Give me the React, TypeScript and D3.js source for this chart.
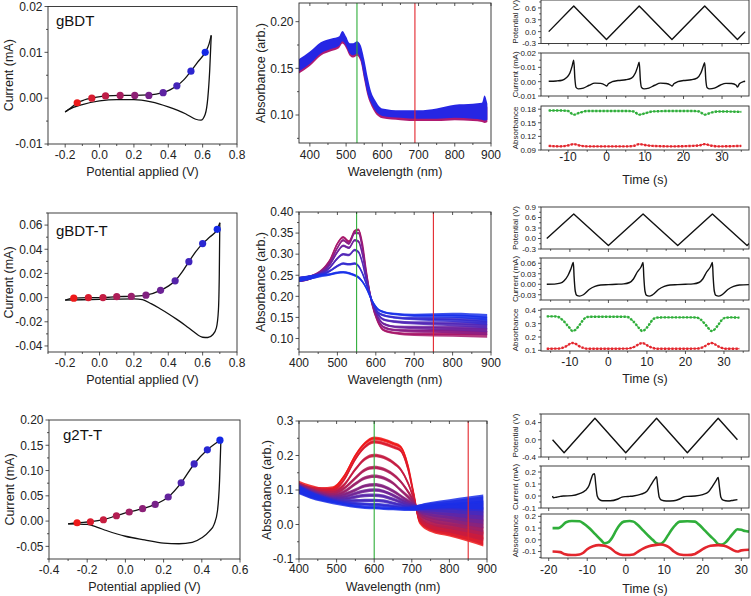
import React from 'react';
import * as d3 from 'd3';

const FONT = "'Liberation Sans', Arial, sans-serif";
const AX = '#2b2b2b';
const GREEN = '#2fae3a';
const RED = '#e3262d';

type P = [number, number];

// ================= CV data (V, mA) =================
const cv1Fwd: P[] = [[-0.2, -0.003], [-0.17, -0.0022], [-0.13, -0.001], [-0.09, -0.0004], [-0.045, 0.0], [0.035, 0.0005], [0.12, 0.0006], [0.205, 0.0006], [0.287, 0.0007], [0.33, 0.0009], [0.37, 0.0012], [0.41, 0.0018], [0.45, 0.0027], [0.49, 0.004], [0.532, 0.0059], [0.57, 0.0078], [0.615, 0.010], [0.637, 0.0118], [0.65, 0.0137]];
const cv1Ret: P[] = [[-0.2, -0.003], [-0.18, -0.0025], [-0.1, -0.0014], [0.0, -0.0006], [0.1, -0.0003], [0.2, -0.0003], [0.3, -0.0008], [0.4, -0.0019], [0.5, -0.0034], [0.56, -0.0046], [0.59, -0.0048], [0.615, -0.0035], [0.63, 0.0], [0.641, 0.006], [0.65, 0.0137]];
const cv1DotV = [-0.13, -0.045, 0.035, 0.12, 0.205, 0.287, 0.37, 0.45, 0.532, 0.615];
const cv1DotI = [-0.001, 0.0, 0.0005, 0.0006, 0.0006, 0.0006, 0.0012, 0.0027, 0.0059, 0.010];
const cv1XTicks = [-0.2, 0, 0.2, 0.4, 0.6, 0.8];
const cv1YTicks = [-0.01, 0, 0.01, 0.02];

const cv2Fwd: P[] = [[-0.2, -0.002], [-0.15, -0.0005], [-0.065, 0.0], [0.02, 0.0], [0.1, 0.0008], [0.185, 0.001], [0.27, 0.002], [0.355, 0.006], [0.4, 0.0095], [0.44, 0.0139], [0.48, 0.021], [0.52, 0.0297], [0.56, 0.038], [0.6, 0.0447], [0.645, 0.0505], [0.685, 0.0565], [0.7, 0.062]];
const cv2Ret: P[] = [[-0.2, -0.002], [0.0, -0.0015], [0.2, -0.001], [0.25, -0.0017], [0.3, -0.005], [0.35, -0.009], [0.4, -0.0133], [0.45, -0.018], [0.5, -0.023], [0.55, -0.0285], [0.6, -0.0328], [0.63, -0.033], [0.66, -0.0305], [0.68, -0.025], [0.692, -0.01], [0.697, 0.02], [0.7, 0.062]];
const cv2DotV = [-0.15, -0.065, 0.02, 0.1, 0.185, 0.27, 0.355, 0.44, 0.52, 0.6, 0.685];
const cv2DotI = [-0.0005, 0, 0, 0.0008, 0.001, 0.002, 0.006, 0.0139, 0.0297, 0.0447, 0.0565];
const cv2XTicks = [-0.2, 0, 0.2, 0.4, 0.6, 0.8];
const cv2YTicks = [-0.04, -0.02, 0, 0.02, 0.04, 0.06];

const cv3Fwd: P[] = [[-0.3, -0.0055], [-0.253, -0.0033], [-0.183, -0.0013], [-0.115, 0.0027], [-0.047, 0.0106], [0.02, 0.018], [0.09, 0.0246], [0.156, 0.033], [0.224, 0.0477], [0.292, 0.0758], [0.36, 0.113], [0.429, 0.141], [0.5, 0.161]];
const cv3Ret: P[] = [[-0.3, -0.0055], [-0.2, -0.0066], [-0.15, -0.012], [-0.1, -0.0186], [0.0, -0.03], [0.1, -0.0372], [0.2, -0.0435], [0.28, -0.0448], [0.35, -0.042], [0.4, -0.033], [0.44, -0.02], [0.465, -0.006], [0.482, 0.02], [0.493, 0.08], [0.5, 0.161]];
const cv3DotV = [-0.253, -0.183, -0.115, -0.047, 0.02, 0.09, 0.156, 0.224, 0.292, 0.36, 0.429, 0.495];
const cv3DotI = [-0.0033, -0.0013, 0.0027, 0.0106, 0.018, 0.0246, 0.033, 0.0477, 0.0758, 0.113, 0.141, 0.160];
const cv3XTicks = [-0.4, -0.2, 0, 0.2, 0.4, 0.6];
const cv3YTicks = [-0.05, 0, 0.05, 0.1, 0.15, 0.2];

// ================= Spectra =================
const sp1Wl = [370, 400, 430, 460, 480, 490, 500, 510, 520, 530, 540, 550, 560, 570, 580, 590, 600, 650, 700, 750, 800, 850, 875, 882, 890];
const sp1Hi = [0.160, 0.168, 0.178, 0.182, 0.184, 0.190, 0.184, 0.177, 0.177, 0.179, 0.175, 0.160, 0.140, 0.124, 0.116, 0.110, 0.107, 0.105, 0.105, 0.107, 0.111, 0.112, 0.113, 0.121, 0.112];
const sp1Lo = [0.147, 0.155, 0.166, 0.171, 0.174, 0.179, 0.174, 0.166, 0.164, 0.166, 0.160, 0.140, 0.122, 0.112, 0.105, 0.101, 0.099, 0.097, 0.096, 0.096, 0.097, 0.096, 0.095, 0.094, 0.095];
const sp1Lines = [530, 690];
const sp1XTicks = [400, 500, 600, 700, 800, 900];
const sp1YTicks = [0.10, 0.15, 0.20];

const sp2Wl = [400, 430, 460, 480, 500, 515, 530, 545, 555, 565, 575, 590, 605, 620, 650, 700, 800, 890];
const sp2C1 = [0.24, 0.245, 0.262, 0.285, 0.325, 0.34, 0.33, 0.355, 0.358, 0.325, 0.26, 0.182, 0.14, 0.12, 0.113, 0.11, 0.11, 0.11];
const sp2C2 = [0.24, 0.245, 0.26, 0.28, 0.315, 0.333, 0.325, 0.35, 0.35, 0.315, 0.255, 0.184, 0.146, 0.127, 0.12, 0.118, 0.118, 0.116];
const sp2C3 = [0.24, 0.245, 0.258, 0.275, 0.305, 0.32, 0.315, 0.333, 0.33, 0.30, 0.25, 0.186, 0.152, 0.135, 0.128, 0.126, 0.125, 0.123];
const sp2C4 = [0.24, 0.245, 0.255, 0.268, 0.29, 0.30, 0.298, 0.31, 0.305, 0.28, 0.24, 0.188, 0.158, 0.145, 0.14, 0.137, 0.135, 0.132];
const sp2C5 = [0.24, 0.245, 0.252, 0.26, 0.272, 0.278, 0.276, 0.278, 0.272, 0.255, 0.23, 0.19, 0.163, 0.155, 0.15, 0.147, 0.145, 0.14];
const sp2C6 = [0.24, 0.245, 0.25, 0.252, 0.256, 0.257, 0.255, 0.25, 0.245, 0.235, 0.22, 0.19, 0.17, 0.163, 0.158, 0.155, 0.155, 0.15];
const sp2Noise = [0.006, 0.005, 0.004, 0.003, 0.003, 0.003, 0.003, 0.003, 0.003, 0.003, 0.003, 0.003, 0.003, 0.003, 0.003, 0.004, 0.006, 0.008];
const sp2Lines = [550, 750];
const sp2XTicks = [400, 500, 600, 700, 800, 900];
const sp2YTicks = [0.10, 0.15, 0.20, 0.25, 0.30, 0.35, 0.40];

const sp3Wl = [400, 430, 460, 490, 520, 550, 575, 600, 625, 650, 670, 690, 705, 720, 750, 800, 850, 890];
const sp3R1 = [0.115, 0.105, 0.1, 0.105, 0.14, 0.2, 0.235, 0.25, 0.245, 0.235, 0.225, 0.17, 0.09, 0.01, -0.012, -0.022, -0.032, -0.042];
const sp3R2 = [0.11, 0.1, 0.1, 0.1, 0.13, 0.19, 0.225, 0.24, 0.235, 0.225, 0.215, 0.16, 0.085, 0.015, -0.008, -0.018, -0.028, -0.038];
const sp3R3 = [0.11, 0.1, 0.095, 0.095, 0.115, 0.16, 0.19, 0.2, 0.195, 0.18, 0.16, 0.12, 0.075, 0.02, -0.002, -0.01, -0.018, -0.025];
const sp3R4 = [0.11, 0.098, 0.09, 0.09, 0.105, 0.135, 0.158, 0.165, 0.16, 0.145, 0.125, 0.095, 0.068, 0.03, 0.01, 0.0, -0.005, -0.01];
const sp3R5 = [0.108, 0.096, 0.088, 0.085, 0.095, 0.118, 0.135, 0.14, 0.135, 0.12, 0.1, 0.08, 0.063, 0.035, 0.018, 0.01, 0.005, 0.0];
const sp3R6 = [0.106, 0.094, 0.085, 0.08, 0.087, 0.1, 0.112, 0.115, 0.11, 0.097, 0.083, 0.068, 0.058, 0.04, 0.028, 0.02, 0.015, 0.012];
const sp3R7 = [0.105, 0.092, 0.082, 0.077, 0.08, 0.09, 0.097, 0.1, 0.096, 0.085, 0.073, 0.062, 0.055, 0.043, 0.035, 0.03, 0.025, 0.024];
const sp3R8 = [0.104, 0.09, 0.08, 0.074, 0.074, 0.08, 0.084, 0.085, 0.082, 0.073, 0.065, 0.057, 0.052, 0.046, 0.042, 0.038, 0.036, 0.036];
const sp3R9 = [0.103, 0.088, 0.078, 0.071, 0.068, 0.069, 0.07, 0.07, 0.068, 0.062, 0.057, 0.052, 0.05, 0.048, 0.048, 0.047, 0.047, 0.048];
const sp3R10 = [0.102, 0.087, 0.076, 0.068, 0.063, 0.06, 0.059, 0.058, 0.056, 0.053, 0.05, 0.048, 0.048, 0.05, 0.053, 0.056, 0.058, 0.06];
const sp3R11 = [0.1, 0.085, 0.074, 0.065, 0.058, 0.053, 0.05, 0.049, 0.047, 0.046, 0.045, 0.045, 0.046, 0.05, 0.055, 0.06, 0.063, 0.065];
const sp3Noise = [0.012, 0.01, 0.008, 0.006, 0.005, 0.005, 0.005, 0.005, 0.005, 0.005, 0.005, 0.006, 0.007, 0.008, 0.01, 0.013, 0.018, 0.022];
const sp3Lines = [600, 850];
const sp3XTicks = [400, 500, 600, 700, 800, 900];
const sp3YTicks = [-0.1, 0.0, 0.1, 0.2, 0.3];

// ================= Time traces =================
const t1Pot: P[] = [[-15, 0], [-8.5, 0.65], [0, -0.2], [8.5, 0.65], [17, -0.2], [25.5, 0.65], [34, -0.2], [36, 0.0]];
const t1Cur: P[] = [[-15, 0.0003], [-13, 0.0005], [-11.5, 0.001], [-10.5, 0.0025], [-9.5, 0.006], [-8.9, 0.011], [-8.5, 0.015], [-8.2, 0.002], [-7.9, -0.004], [-7.3, -0.005], [-6, -0.0045], [-4.5, -0.0025], [-3, -0.001], [-1.5, -0.0012], [-0.3, -0.0025], [0, -0.003], [0.5, -0.0015], [1.5, 0.0], [3, 0.0008], [5, 0.0013], [6.5, 0.0025], [7.5, 0.006], [8.1, 0.0105], [8.5, 0.0135], [8.8, 0.001], [9.1, -0.004], [9.8, -0.005], [11, -0.0045], [12.5, -0.0025], [14, -0.001], [15.5, -0.0013], [16.7, -0.0025], [17, -0.003], [17.5, -0.0015], [18.5, 0.0], [20, 0.0008], [22, 0.0013], [23.5, 0.0025], [24.5, 0.006], [25.1, 0.0105], [25.5, 0.0133], [25.8, 0.001], [26.1, -0.004], [26.8, -0.005], [28, -0.0045], [29.5, -0.0025], [31, -0.0012], [32.5, -0.0013], [33.7, -0.0025], [34, -0.0038], [34.5, -0.0015], [35.5, 0.0], [36, 0.0003]];
const t1Green: P[] = [[-15, 0.177], [-12, 0.177], [-10, 0.176], [-9, 0.17], [-8.5, 0.168], [-7, 0.172], [-5, 0.176], [0, 0.176], [5, 0.176], [7, 0.175], [8.5, 0.168], [10, 0.171], [12, 0.175], [17, 0.176], [22, 0.176], [24, 0.175], [25.5, 0.168], [27, 0.172], [29, 0.175], [35, 0.174]];
const t1Red: P[] = [[-15, 0.099], [-12, 0.098], [-10, 0.1], [-8.5, 0.103], [-7, 0.1], [-5, 0.098], [0, 0.098], [5, 0.098], [7, 0.099], [8.5, 0.103], [10, 0.101], [12, 0.099], [17, 0.098], [22, 0.099], [24, 0.1], [25.5, 0.103], [27, 0.1], [29, 0.098], [35, 0.099]];

const t2Pot: P[] = [[-16, 0], [-9, 0.7], [0, -0.2], [9, 0.7], [18, -0.2], [27, 0.7], [36, -0.2], [36.8, -0.12]];
const t2Cur: P[] = [[-16, 0.0], [-14, 0.0005], [-12.5, 0.003], [-11.5, 0.01], [-10.5, 0.025], [-9.7, 0.045], [-9.1, 0.062], [-8.9, 0.02], [-8.6, -0.02], [-8.2, -0.032], [-7.5, -0.034], [-6.5, -0.03], [-5, -0.015], [-3.5, -0.006], [-2, -0.002], [0, -0.001], [2, 0.0], [4, 0.001], [5.5, 0.005], [6.5, 0.015], [7.5, 0.035], [8.5, 0.05], [9, 0.062], [9.2, 0.02], [9.5, -0.02], [9.9, -0.032], [10.6, -0.034], [11.5, -0.03], [13, -0.015], [14.5, -0.006], [16, -0.002], [18, -0.001], [20, 0.0], [22, 0.001], [23.5, 0.005], [24.5, 0.015], [25.5, 0.035], [26.5, 0.05], [27, 0.062], [27.2, 0.02], [27.5, -0.02], [27.9, -0.032], [28.6, -0.034], [29.5, -0.03], [31, -0.015], [32.5, -0.006], [34, -0.002], [36.8, -0.001]];
const t2Green: P[] = [[-16, 0.355], [-14, 0.355], [-13, 0.35], [-12, 0.33], [-11, 0.3], [-10, 0.265], [-9.3, 0.245], [-8.5, 0.255], [-7.5, 0.29], [-6.5, 0.33], [-5.5, 0.35], [-4, 0.352], [0, 0.352], [4, 0.352], [5, 0.35], [6, 0.33], [7, 0.3], [8, 0.265], [8.8, 0.245], [9.5, 0.255], [10.5, 0.29], [11.5, 0.33], [12.5, 0.345], [14, 0.347], [18, 0.347], [22, 0.347], [23, 0.345], [24, 0.33], [25, 0.3], [26, 0.265], [26.8, 0.245], [27.5, 0.255], [28.5, 0.29], [29.5, 0.33], [30.5, 0.345], [32, 0.347], [34, 0.345]];
const t2Red: P[] = [[-16, 0.112], [-13, 0.113], [-12, 0.118], [-11, 0.13], [-10, 0.148], [-9.3, 0.155], [-8.5, 0.148], [-7.5, 0.13], [-6.5, 0.118], [-5.5, 0.112], [0, 0.112], [5, 0.113], [6, 0.118], [7, 0.13], [8, 0.148], [8.8, 0.155], [9.5, 0.148], [10.5, 0.13], [11.5, 0.118], [12.5, 0.112], [18, 0.112], [23, 0.113], [24, 0.118], [25, 0.13], [26, 0.148], [26.8, 0.155], [27.5, 0.148], [28.5, 0.13], [29.5, 0.118], [30.5, 0.112], [34, 0.112]];

const t3Pot: P[] = [[-19, 0], [-16, -0.3], [-8, 0.5], [0, -0.3], [8, 0.5], [16, -0.3], [24, 0.5], [29, 0.0]];
const t3Cur: P[] = [[-19, 0.0], [-18.8, -0.015], [-18, -0.01], [-17, -0.003], [-16, 0.0], [-14, 0.003], [-12, 0.02], [-10.5, 0.045], [-9.5, 0.09], [-9, 0.14], [-8.5, 0.18], [-8.1, 0.185], [-7.8, 0.1], [-7.4, 0.0], [-6.8, -0.03], [-6, -0.04], [-4, -0.04], [-2, -0.025], [-1, -0.01], [0, -0.005], [1, -0.003], [2, 0.0], [4, 0.015], [5.5, 0.04], [6.5, 0.09], [7.5, 0.14], [8, 0.16], [8.3, 0.08], [8.7, -0.01], [9.3, -0.035], [10.5, -0.042], [12.5, -0.04], [14, -0.025], [15, -0.008], [16, -0.003], [18, 0.0], [20, 0.012], [21.5, 0.035], [22.5, 0.08], [23.5, 0.13], [24, 0.155], [24.3, 0.08], [24.7, -0.01], [25.3, -0.035], [26.5, -0.042], [28, -0.035], [29, -0.03]];
const t3Green: P[] = [[-19, 0.1], [-17.5, 0.1], [-16.5, 0.12], [-15.5, 0.15], [-14, 0.16], [-12, 0.158], [-11, 0.14], [-9.5, 0.1], [-8, 0.05], [-6.5, 0.0], [-5.5, -0.03], [-4.5, -0.02], [-3.5, 0.02], [-2.5, 0.08], [-1.5, 0.13], [-0.5, 0.155], [1, 0.16], [2, 0.155], [3, 0.13], [4.5, 0.08], [6, 0.03], [7, 0.0], [8, -0.03], [9, -0.035], [10, -0.01], [11, 0.04], [12, 0.09], [13, 0.13], [14, 0.155], [16, 0.158], [18, 0.155], [19, 0.13], [20.5, 0.08], [22, 0.03], [23, 0.0], [24, -0.035], [25, -0.04], [26, -0.02], [27, 0.02], [28, 0.06], [29, 0.09], [30, 0.085], [31, 0.075], [32, 0.07]];
const t3Red: P[] = [[-19, -0.1], [-17, -0.105], [-16, -0.12], [-14, -0.13], [-12, -0.125], [-11, -0.11], [-10, -0.08], [-8.5, -0.055], [-7, -0.045], [-5.5, -0.05], [-4, -0.07], [-2.5, -0.11], [-1.5, -0.125], [0, -0.13], [2, -0.125], [3, -0.105], [4.5, -0.075], [6, -0.055], [7.5, -0.045], [9, -0.04], [10.5, -0.05], [11.5, -0.07], [12.5, -0.1], [14, -0.125], [16, -0.13], [18, -0.12], [19, -0.1], [20.5, -0.07], [22, -0.05], [24, -0.045], [25.5, -0.05], [27, -0.07], [28, -0.09], [29, -0.1], [30, -0.09], [32, -0.085]];

const tX12Ticks = [-10, 0, 10, 20, 30];
const tX3Ticks = [-20, -10, 0, 10, 20, 30];
const t1PotTicks = [-0.3, 0, 0.3, 0.6];
const t1CurTicks = [-0.01, 0, 0.01, 0.02];
const t1AbsTicks = [0.09, 0.12, 0.15, 0.18];
const t2PotTicks = [-0.3, 0, 0.3, 0.6, 0.9];
const t2CurTicks = [-0.03, 0, 0.03, 0.06];
const t2AbsTicks = [0.1, 0.2, 0.3, 0.4];
const t3PotTicks = [-0.4, 0, 0.4];
const t3CurTicks = [-0.1, 0, 0.1, 0.2];
const t3AbsTicks = [-0.1, 0, 0.1, 0.2];

// ================= helpers =================
const fmtN = (n: number) => (v: number) => (Math.abs(v) < 1e-12 ? 0 : v).toFixed(n);
const fmtInt = (v: number) => String(Math.round(v));

function minorTicks(major: number[], dom: number[]) {
  const step = major[1] - major[0];
  const lo = Math.min(dom[0], dom[1]), hi = Math.max(dom[0], dom[1]);
  const out: number[] = [];
  for (let v = major[0] - step / 2; v >= lo - 1e-9; v -= step) out.push(v);
  for (const m of major) { const v = m + step / 2; if (v <= hi + 1e-9 && v >= lo - 1e-9) out.push(v); }
  return out;
}

function YAxis({ y, x, ticks, dom, fmt, fs, len = 3.5, mlen = 2 }: any) {
  const minor = minorTicks(ticks, dom);
  return (
    <g>
      {minor.map((v: number, i: number) => <line key={'m' + i} x1={x} x2={x - mlen} y1={y(v)} y2={y(v)} stroke={AX} strokeWidth={0.8} />)}
      {ticks.map((v: number, i: number) => (
        <g key={i}>
          <line x1={x} x2={x - len} y1={y(v)} y2={y(v)} stroke={AX} strokeWidth={0.8} />
          {fmt && <text x={x - len - 2} y={y(v)} dy="0.36em" textAnchor="end" fontSize={fs} fill="#222">{fmt(v)}</text>}
        </g>
      ))}
    </g>
  );
}

function XAxis({ x, y, ticks, dom, fmt, fs, labelY, len = 3.5, mlen = 2, dir = 1 }: any) {
  const minor = minorTicks(ticks, dom);
  return (
    <g>
      {minor.map((v: number, i: number) => <line key={'m' + i} x1={x(v)} x2={x(v)} y1={y} y2={y + dir * mlen} stroke={AX} strokeWidth={0.8} />)}
      {ticks.map((v: number, i: number) => (
        <g key={i}>
          <line x1={x(v)} x2={x(v)} y1={y} y2={y + dir * len} stroke={AX} strokeWidth={0.8} />
          {fmt && <text x={x(v)} y={labelY} textAnchor="middle" fontSize={fs} fill="#222">{fmt(v)}</text>}
        </g>
      ))}
    </g>
  );
}

type Box = { l: number; r: number; t: number; b: number };

function Frame({ box }: { box: Box }) {
  return <rect x={box.l} y={box.t} width={box.r - box.l} height={box.b - box.t} fill="none" stroke={AX} strokeWidth={0.9} />;
}

const dotColor = (i: number, n: number) => d3.interpolateRgb('#ee1a1a', '#1428e6')(i / (n - 1));

function CVPanel({ box, xDom, yDom, xTicks, yTicks, yFmt, fwd, ret, dotV, dotI, title, titlePos, xLabY, xTitleY, yTitleX }: any) {
  const x = d3.scaleLinear().domain(xDom).range([box.l, box.r]);
  const y = d3.scaleLinear().domain(yDom).range([box.b, box.t]);
  const line = d3.line<P>().x(d => x(d[0])).y(d => y(d[1])).curve(d3.curveMonotoneX);
  return (
    <g>
      <Frame box={box} />
      <path d={line(ret) || ''} fill="none" stroke="#111" strokeWidth={1.3} />
      <path d={line(fwd) || ''} fill="none" stroke="#111" strokeWidth={1.3} />
      {dotV.map((v: number, i: number) => (
        <circle key={i} cx={x(v)} cy={y(dotI[i])} r={3.6} fill={dotColor(i, dotV.length)} />
      ))}
      <XAxis x={x} y={box.b} ticks={xTicks} dom={xDom} fmt={fmtN(1)} fs={12} labelY={xLabY} />
      <YAxis y={y} x={box.l} ticks={yTicks} dom={yDom} fmt={yFmt} fs={12} />
      <text x={titlePos[0]} y={titlePos[1]} fontSize={15} fill="#111">{title}</text>
      <text x={(box.l + box.r) / 2} y={xTitleY} textAnchor="middle" fontSize={12.5} fill="#222">Potential applied (V)</text>
      <text transform={`translate(${yTitleX},${(box.t + box.b) / 2}) rotate(-90)`} textAnchor="middle" fontSize={12.5} fill="#222">Current (mA)</text>
    </g>
  );
}

function SpecFrame({ box, xDom, yDom, xTicks, yTicks, yFmt, lines, xLabY, xTitleY, yTitleX, children }: any) {
  const x = d3.scaleLinear().domain(xDom).range([box.l, box.r]);
  const y = d3.scaleLinear().domain(yDom).range([box.b, box.t]);
  return (
    <g>
      <defs>
        <clipPath id={`clip${box.t}`}><rect x={box.l} y={box.t} width={box.r - box.l} height={box.b - box.t} /></clipPath>
      </defs>
      <g clipPath={`url(#clip${box.t})`}>{children(x, y)}</g>
      <line x1={x(lines[0])} x2={x(lines[0])} y1={box.t} y2={box.b} stroke={GREEN} strokeWidth={1.1} />
      <line x1={x(lines[1])} x2={x(lines[1])} y1={box.t} y2={box.b} stroke={RED} strokeWidth={1.1} />
      <Frame box={box} />
      <XAxis x={x} y={box.b} ticks={xTicks} dom={xDom} fmt={fmtInt} fs={12} labelY={xLabY} />
      <XAxis x={x} y={box.t} ticks={xTicks} dom={xDom} len={3} mlen={2} dir={1} />
      <YAxis y={y} x={box.l} ticks={yTicks} dom={yDom} fmt={yFmt} fs={12} />
      <text x={(box.l + box.r) / 2} y={xTitleY} textAnchor="middle" fontSize={12.5} fill="#222">Wavelength (nm)</text>
      <text transform={`translate(${yTitleX},${(box.t + box.b) / 2}) rotate(-90)`} textAnchor="middle" fontSize={12.5} fill="#222">Absorbance (arb.)</text>
    </g>
  );
}

function curveSet(wl: number[], curves: number[][], noise: number[], colors: string[], x: any, y: any, width: number) {
  const area = d3.area<number>().x((_, i) => x(wl[i])).curve(d3.curveMonotoneX);
  const line = d3.line<number>().x((_, i) => x(wl[i])).y(d => y(d)).curve(d3.curveMonotoneX);
  return curves.map((c, k) => (
    <g key={k}>
      <path d={area.y0((d, i) => y(d - noise[i])).y1((d, i) => y(d + noise[i]))(c) || ''} fill={colors[k]} opacity={0.85} />
      <path d={line(c) || ''} fill="none" stroke={colors[k]} strokeWidth={width} />
    </g>
  ));
}

function TimePanel({ xDom, xTicks, subs, xLabY, titleY }: any) {
  const L = 541, R = 749;
  const x = d3.scaleLinear().domain(xDom).range([L, R]);
  return (
    <g>
      {subs.map((s: any, k: number) => {
        const y = d3.scaleLinear().domain(s.dom).range([s.b, s.t]);
        const line = d3.line<P>().x(d => x(d[0])).y(d => y(d[1])).curve(s.linear ? d3.curveLinear : d3.curveMonotoneX);
        const box = { l: L, r: R, t: s.t, b: s.b };
        const last = k === subs.length - 1;
        return (
          <g key={k}>
            <defs>
              <clipPath id={`tclip${s.t}`}><rect x={L} y={s.t} width={R - L} height={s.b - s.t} /></clipPath>
            </defs>
            <g clipPath={`url(#tclip${s.t})`}>
              {s.series.map((se: any, j: number) => (
                <g key={j}>
                  <path d={line(se.data) || ''} fill="none" stroke={se.color} strokeWidth={se.width} strokeLinejoin="round" />
                  {se.markers && <path d={line(se.data) || ''} fill="none" stroke={se.color} strokeWidth={2.4} strokeDasharray="2.2 1.5" />}
                </g>
              ))}
            </g>
            <Frame box={box} />
            <XAxis x={x} y={s.b} ticks={xTicks} dom={xDom} fmt={last ? fmtInt : null} fs={12} labelY={xLabY} len={3} mlen={1.8} />
            <YAxis y={y} x={L} ticks={s.ticks} dom={s.dom} fmt={s.fmt} fs={8} len={3} mlen={1.8} />
            <text transform={`translate(518,${(s.t + s.b) / 2}) rotate(-90)`} textAnchor="middle" fontSize={8} fill="#222">{s.label}</text>
          </g>
        );
      })}
      <text x={(L + R) / 2} y={titleY} textAnchor="middle" fontSize={12.5} fill="#222">Time (s)</text>
    </g>
  );
}

export default function App() {
  const sp2Colors = [0, 1, 2, 3, 4, 5].map(i => d3.interpolateRgb('#a8186a', '#1a32ea')(i / 5));
  const sp3Colors = d3.range(11).map(i => d3.interpolateRgb('#f01818', '#1a2ee8')(i / 10));
  return (
    <svg width={751} height={596} style={{ position: 'absolute', left: 0, top: 0, background: '#fff', fontFamily: FONT }}>
      <rect x={0} y={0} width={751} height={596} fill="#fff" />
      {/* Row 1 */}
      <CVPanel box={{ l: 48, r: 237, t: 6.5, b: 144 }} xDom={[-0.3, 0.8]} yDom={[-0.01, 0.02]} xTicks={cv1XTicks} yTicks={cv1YTicks} yFmt={fmtN(2)}
        fwd={cv1Fwd} ret={cv1Ret} dotV={cv1DotV} dotI={cv1DotI} title="gBDT" titlePos={[56, 26]} xLabY={159} xTitleY={176} yTitleX={13} />
      <SpecFrame box={{ l: 299, r: 491, t: 3, b: 143 }} xDom={[370, 900]} yDom={[0.07, 0.22]} xTicks={sp1XTicks} yTicks={sp1YTicks} yFmt={fmtN(2)}
        lines={sp1Lines} xLabY={159} xTitleY={176} yTitleX={265}>
        {(x: any, y: any) => {
          const a = d3.area<number>().x((_, i) => x(sp1Wl[i])).y0((_, i) => y(sp1Lo[i])).y1((_, i) => y(sp1Hi[i])).curve(d3.curveMonotoneX);
          const a2 = d3.area<number>().x((_, i) => x(sp1Wl[i])).y0((_, i) => y(sp1Lo[i] - 0.0025)).y1((_, i) => y(sp1Hi[i] - 0.004)).curve(d3.curveMonotoneX);
          return <g><path d={a2(sp1Wl) || ''} fill="#b01a70" /><path d={a(sp1Wl) || ''} fill="#2626e4" /></g>;
        }}
      </SpecFrame>
      <TimePanel xDom={[-17, 37]} xTicks={tX12Ticks} xLabY={161} titleY={184} subs={[
        { t: 0, b: 43.5, dom: [-0.3, 0.8], ticks: t1PotTicks, fmt: fmtN(1), label: 'Potential (V)', linear: true, series: [{ data: t1Pot, color: '#111', width: 1.4 }] },
        { t: 53, b: 96, dom: [-0.01, 0.02], ticks: t1CurTicks, fmt: fmtN(2), label: 'Current (mA)', series: [{ data: t1Cur, color: '#111', width: 1.4 }] },
        { t: 106, b: 150, dom: [0.09, 0.187], ticks: t1AbsTicks, fmt: fmtN(2), label: 'Absorbance', series: [{ data: t1Green, color: GREEN, width: 1, markers: true }, { data: t1Red, color: RED, width: 1, markers: true }] },
      ]} />

      {/* Row 2 */}
      <CVPanel box={{ l: 48, r: 237, t: 213, b: 352 }} xDom={[-0.3, 0.8]} yDom={[-0.045, 0.07]} xTicks={cv2XTicks} yTicks={cv2YTicks} yFmt={fmtN(2)}
        fwd={cv2Fwd} ret={cv2Ret} dotV={cv2DotV} dotI={cv2DotI} title="gBDT-T" titlePos={[56, 236]} xLabY={367} xTitleY={384} yTitleX={13} />
      <SpecFrame box={{ l: 299, r: 491, t: 212, b: 352 }} xDom={[400, 900]} yDom={[0.068, 0.40]} xTicks={sp2XTicks} yTicks={sp2YTicks} yFmt={fmtN(2)}
        lines={sp2Lines} xLabY={367} xTitleY={384} yTitleX={265}>
        {(x: any, y: any) => curveSet(sp2Wl, [sp2C1, sp2C2, sp2C3, sp2C4, sp2C5, sp2C6], sp2Noise, sp2Colors, x, y, 1.6)}
      </SpecFrame>
      <TimePanel xDom={[-17.5, 36.5]} xTicks={tX12Ticks} xLabY={366} titleY={383} subs={[
        { t: 207, b: 249, dom: [-0.3, 0.9], ticks: t2PotTicks, fmt: fmtN(1), label: 'Potential (V)', linear: true, series: [{ data: t2Pot, color: '#111', width: 1.4 }] },
        { t: 258, b: 300, dom: [-0.045, 0.075], ticks: t2CurTicks, fmt: fmtN(2), label: 'Current (mA)', series: [{ data: t2Cur, color: '#111', width: 1.4 }] },
        { t: 309, b: 351, dom: [0.095, 0.41], ticks: t2AbsTicks, fmt: fmtN(1), label: 'Absorbance', series: [{ data: t2Green, color: GREEN, width: 1, markers: true }, { data: t2Red, color: RED, width: 1, markers: true }] },
      ]} />

      {/* Row 3 */}
      <CVPanel box={{ l: 49, r: 240, t: 420, b: 559 }} xDom={[-0.4, 0.6]} yDom={[-0.075, 0.2]} xTicks={cv3XTicks} yTicks={cv3YTicks} yFmt={fmtN(2)}
        fwd={cv3Fwd} ret={cv3Ret} dotV={cv3DotV} dotI={cv3DotI} title="g2T-T" titlePos={[63, 440]} xLabY={574} xTitleY={591} yTitleX={14} />
      <SpecFrame box={{ l: 299, r: 487, t: 421, b: 559 }} xDom={[400, 900]} yDom={[-0.1, 0.3]} xTicks={sp3XTicks} yTicks={sp3YTicks} yFmt={fmtN(1)}
        lines={sp3Lines} xLabY={573} xTitleY={591} yTitleX={271}>
        {(x: any, y: any) => curveSet(sp3Wl, [sp3R1, sp3R2, sp3R3, sp3R4, sp3R5, sp3R6, sp3R7, sp3R8, sp3R9, sp3R10, sp3R11], sp3Noise, sp3Colors, x, y, 1.6)}
      </SpecFrame>
      <TimePanel xDom={[-22, 32]} xTicks={tX3Ticks} xLabY={574} titleY={593} subs={[
        { t: 414, b: 457, dom: [-0.4, 0.6], ticks: t3PotTicks, fmt: fmtN(1), label: 'Potential (V)', linear: true, series: [{ data: t3Pot, color: '#111', width: 1.4 }] },
        { t: 466, b: 508, dom: [-0.1, 0.25], ticks: t3CurTicks, fmt: fmtN(1), label: 'Current (mA)', series: [{ data: t3Cur, color: '#111', width: 1.4 }] },
        { t: 514, b: 558, dom: [-0.155, 0.22], ticks: t3AbsTicks, fmt: fmtN(1), label: 'Absorbance', series: [{ data: t3Green, color: GREEN, width: 2.6 }, { data: t3Red, color: RED, width: 2.6 }] },
      ]} />
    </svg>
  );
}
